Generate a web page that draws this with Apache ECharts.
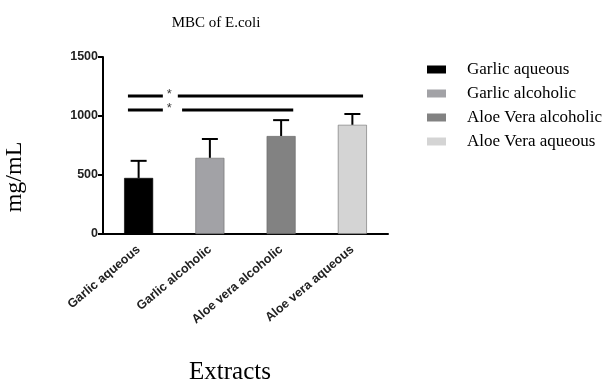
<!DOCTYPE html>
<html>
<head>
<meta charset="utf-8">
<script src="https://cdn.jsdelivr.net/npm/echarts@6/dist/echarts.min.js"></script>
<style>html,body{margin:0;padding:0;background:#fff}#c{width:612px;height:382px}</style>
</head>
<body>
<div id="c"></div>
<script>
var categories = ['Garlic aqueous', 'Garlic alcoholic', 'Aloe vera alcoholic', 'Aloe vera aqueous'];
var legendNames = ['Garlic aqueous', 'Garlic alcoholic', 'Aloe Vera alcoholic', 'Aloe Vera aqueous'];
var means = [475, 645, 830, 925];
var upper = [620, 805, 965, 1017];
var colors = ['#000000', '#a2a2a6', '#828282', '#d4d4d4'];
var yTicks = [0, 500, 1000, 1500];
// significance brackets: [xStart, xEnd, y] in band units (0..4)
var sigSegments = [
  [0.35, 0.84, 1169], [1.05, 3.65, 1169],
  [0.35, 0.84, 1051], [1.11, 2.67, 1051]
];
var sigStars = [[0.93, 1180], [0.93, 1062]];

var chart = echarts.init(document.getElementById('c'));
var serif = '"Liberation Serif", "Times New Roman", serif';
var series = [];
legendNames.forEach(function (n, i) {
  var d = categories.map(function (c, j) { return j === i ? means[i] : '-'; });
  series.push({
    name: n, type: 'bar', data: d, barWidth: 29, barGap: '-100%',
    itemStyle: { color: colors[i], borderColor: i === 0 ? '#000' : '#6a6a6a', borderWidth: 0.6 }
  });
});
series.push({
  type: 'custom', xAxisIndex: 0, yAxisIndex: 0, z: 1,
  data: categories.map(function (c, i) { return [i, means[i], upper[i]]; }),
  renderItem: function (params, api) {
    var p0 = api.coord([api.value(0), api.value(1)]);
    var p1 = api.coord([api.value(0), api.value(2)]);
    var st = { stroke: '#000', lineWidth: 2 };
    return { type: 'group', children: [
      { type: 'line', shape: { x1: p0[0], y1: p0[1], x2: p1[0], y2: p1[1] }, style: st },
      { type: 'line', shape: { x1: p1[0] - 8, y1: p1[1], x2: p1[0] + 8, y2: p1[1] }, style: st }
    ]};
  }
});
sigSegments.forEach(function (s) {
  series.push({
    type: 'line', xAxisIndex: 1, yAxisIndex: 0, symbol: 'none', silent: true,
    data: [[s[0], s[2]], [s[1], s[2]]],
    lineStyle: { color: '#000', width: 3 }
  });
});
series.push({
  type: 'scatter', xAxisIndex: 1, yAxisIndex: 0, symbolSize: 0, silent: true,
  data: sigStars,
  label: { show: true, formatter: '*', position: 'inside', fontSize: 13, color: '#000', fontFamily: 'Arial' }
});

chart.setOption({
  animation: false,
  backgroundColor: '#fff',
  title: {
    text: 'MBC of E.coli', left: 211, top: 11, textAlign: 'center',
    textStyle: { fontFamily: serif, fontSize: 15, fontWeight: 'normal', color: '#000' }
  },
  graphic: [
    { type: 'text', x: 15, y: 177, rotation: Math.PI / 2, style: {
        text: 'mg/mL', font: '24px ' + serif, fill: '#000', align: 'center', verticalAlign: 'middle' } },
    { type: 'text', x: 230, y: 372, style: {
        text: 'Extracts', font: '25px ' + serif, fill: '#000', align: 'center', verticalAlign: 'middle' } }
  ],
  legend: {
    orient: 'vertical', left: 422, top: 56, itemWidth: 19, itemHeight: 8, itemGap: 7,
    data: legendNames, icon: 'rect',
    itemStyle: { borderWidth: 0 },
    textStyle: { fontFamily: serif, fontSize: 17, color: '#000', padding: [0, 0, 0, 16] }
  },
  grid: { left: 103, top: 57, width: 285, bottom: 148, outerBoundsMode: 'none', containLabel: false },
  xAxis: [{
    type: 'category', data: categories,
    axisLine: { lineStyle: { color: '#000', width: 2 } },
    axisTick: { alignWithLabel: true, length: 5, lineStyle: { color: '#000', width: 2 } },
    axisLabel: { rotate: 40, fontFamily: 'Arial', fontWeight: 'bold', fontSize: 12.5, color: '#222', margin: 14 }
  }, {
    type: 'value', min: 0, max: 4, show: false
  }],
  yAxis: {
    type: 'value', min: 0, max: 1500, interval: 500,
    axisLine: { show: true, lineStyle: { color: '#000', width: 2 } },
    axisTick: { show: true, length: 5, lineStyle: { color: '#000', width: 2 } },
    splitLine: { show: false },
    axisLabel: { fontFamily: 'Arial', fontWeight: 'bold', fontSize: 12.5, color: '#222', margin: 5,
      formatter: function (v) { return yTicks.indexOf(v) >= 0 ? String(v) : ''; } }
  },
  series: series
});
</script>
</body>
</html>
